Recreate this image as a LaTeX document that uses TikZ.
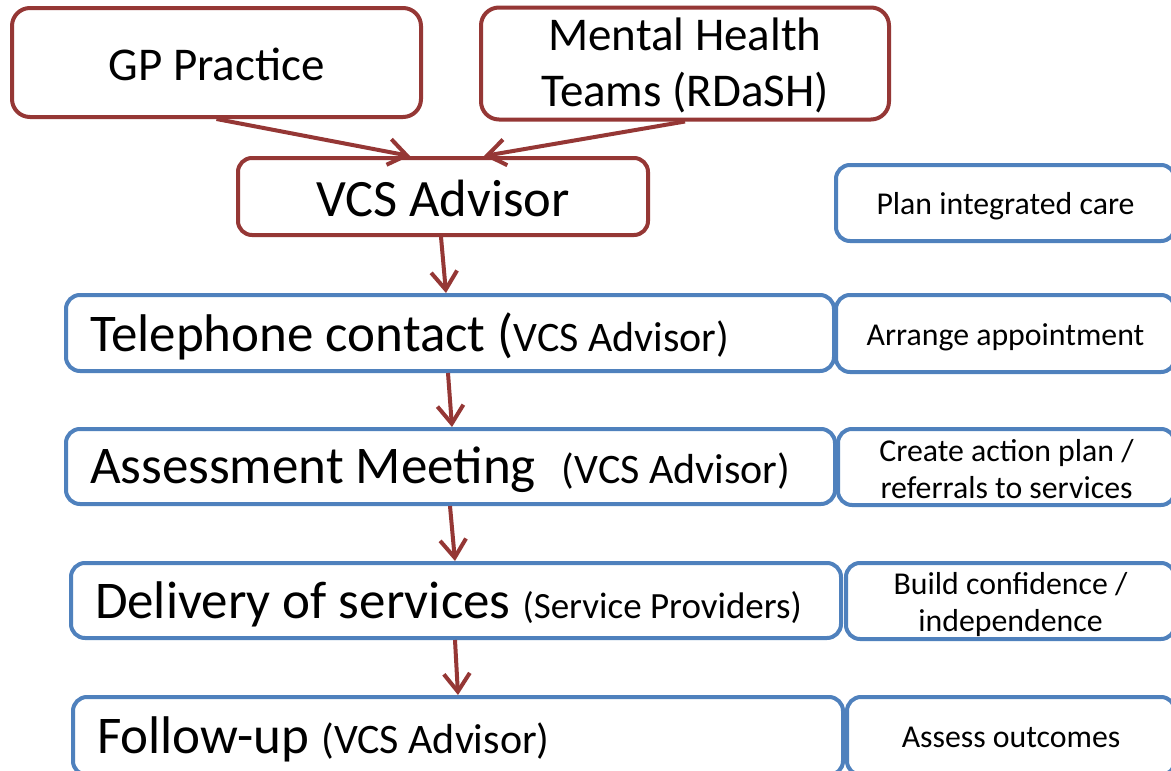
\documentclass[tikz,border=0pt]{standalone}
\usepackage{fontspec}
\setmainfont{Carlito}
\usetikzlibrary{arrows.meta,calc}
\definecolor{dred}{RGB}{149,55,53}
\definecolor{lblue}{RGB}{79,129,189}
\newcommand\bigf{\fontsize{53}{60}\selectfont}
\newcommand\vcsf{\fontsize{52.5}{60}\selectfont}
\newcommand\topf{\fontsize{47}{56}\selectfont}
\newcommand\medf{\fontsize{42}{50}\selectfont}
\newcommand\spf{\fontsize{37}{44}\selectfont}
\newcommand\smf{\fontsize{31.8}{37}\selectfont}
\newcommand\dn[2][3pt]{\raisebox{-#1}[\height][\depth]{#2}}
\newcommand\twol[2]{\begin{tabular}{@{}c@{}}#1\\#2\end{tabular}}
\tikzset{
  redbox/.style={draw=dred, line width=4pt, rounded corners=18pt, fill=white, inner sep=0pt, align=center},
  bluebox/.style={draw=lblue, line width=4pt, rounded corners=14pt, fill=white, inner sep=0pt},
  mainbox/.style={bluebox, minimum height=76pt, text width=722pt, inner xsep=24pt, align=flush left, font=\bigf},
  sidebox/.style={bluebox, minimum height=76pt, align=center, font=\smf},
  flowarr/.style={draw=dred, line width=4pt, -{Straight Barb[length=18pt,width=26pt]}},
}
\begin{document}
\begin{tikzpicture}[x=1pt,y=-1pt]
\clip (0,0) rectangle (1171,771);
\fill[white] (0,0) rectangle (1171,771);
% top red boxes
\node[redbox, minimum width=409pt, minimum height=109pt, font=\topf] (gp) at (216.5,62.5) {\dn[2pt]{GP Practice}};
\node[redbox, minimum width=408pt, minimum height=109pt, font=\topf] (mh) at (685,63.5) {\dn[4pt]{\twol{Mental Health}{Teams (RDaSH)}}};
\node[redbox, rounded corners=14pt, minimum width=410pt, minimum height=77pt, font=\vcsf] (vcs) at (443,196.5) {\dn[2pt]{VCS Advisor}};
% main flow boxes
\node[mainbox, text width=720pt] (tel) at (450,333) {\dn{Telephone contact ({\medf VCS Advisor)}}};
\node[mainbox, text width=721pt, minimum height=75pt] (ass) at (450.5,466.5) {\dn[3.5pt]{Assessment Meeting\hspace{14pt} {\medf(VCS Advisor)}}};
\node[mainbox, minimum height=75pt] (del) at (456,600.5) {\dn[4pt]{Delivery of services {\spf(Service Providers)}}};
\node[mainbox, minimum height=78pt] (fol) at (458,736) {\dn{Follow-up {\medf(VCS Advisor)}}};
% side boxes
\node[sidebox, minimum width=339pt] (plan) at (1005.5,203) {\dn{Plan integrated care}};
\node[sidebox, minimum width=339pt, minimum height=77pt] (arr) at (1005.5,333.5) {\dn[3.5pt]{Arrange appointment}};
\node[sidebox, minimum width=337pt] (cre) at (1006.5,467) {\dn[6pt]{\twol{Create action plan /}{referrals to services}}};
\node[sidebox, minimum width=329pt] (bui) at (1010.5,601) {\dn[4.5pt]{\twol{Build confidence /}{independence}}};
\node[sidebox, minimum width=328pt, minimum height=78pt] (out) at (1011,736) {\dn[1pt]{Assess outcomes}};
% arrows
\draw[flowarr] (gp.south) -- ($(vcs.north)+(-33,0)$);
\draw[flowarr] (mh.south) -- ($(vcs.north)+(41,0)$);
\draw[flowarr] ($(vcs.south)+(-2,0)$) -- ($(tel.north)+(-4,0)$);
\draw[flowarr] ($(tel.south)+(-2,0)$) -- ($(ass.north)+(1.5,0)$);
\draw[flowarr] ($(ass.south)+(-0.5,0)$) -- ($(del.north)+(-1,0)$);
\draw[flowarr] ($(del.south)+(-1,0)$) -- (fol.north);
\end{tikzpicture}
\end{document}
